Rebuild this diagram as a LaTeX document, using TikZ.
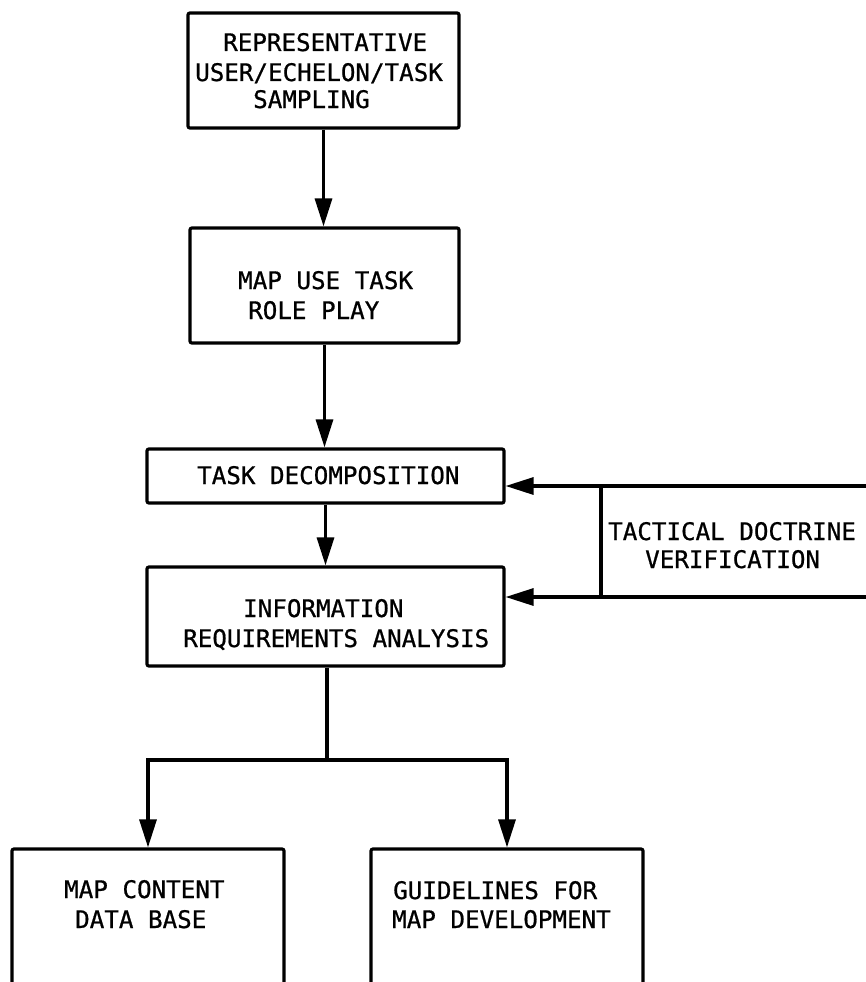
\documentclass[tikz,border=0pt]{standalone}
\usepackage{fontspec}
\newfontfamily\tw[UprightFeatures={FakeBold=0.8}]{DejaVu Sans Mono}
\usetikzlibrary{arrows.meta}
\tikzset{
  box/.style={draw, line width=3.2pt, rounded corners=2pt, inner sep=0pt},
  lbl/.style={anchor=base west, inner sep=0pt, font=\tw\fontsize{24.2}{29}\selectfont},
  conn/.style={line width=3.2pt},
  arr/.style={conn, -{Triangle[length=28pt,width=17pt]}},
}
\begin{document}
\begin{tikzpicture}[x=1pt,y=-1pt]
\useasboundingbox (0,0) rectangle (866,982);
% boxes
\node[box, minimum width=271pt, minimum height=115pt] (b1) at (323.5,70.5) {};
\node[box, minimum width=269pt, minimum height=115pt] (b2) at (324.5,285.5) {};
\node[box, minimum width=357pt, minimum height=54pt] (b3) at (325.5,476) {};
\node[box, minimum width=357pt, minimum height=99pt] (b4) at (325.5,616.5) {};
\node[box, minimum width=272pt, minimum height=160pt] (b5) at (148,929) {};
\node[box, minimum width=272pt, minimum height=160pt] (b6) at (507,929) {};
% texts
\node[lbl] (t1a) at (223,51) {REPRESENTATIVE};
\node[lbl] (t1b) at (195,81) {USER/ECHELON/TASK};
\node[lbl] (t1c) at (253,108) {SAMPLING};
\node[lbl] (t2a) at (238,289) {MAP USE TASK};
\node[lbl] (t2b) at (248,319) {ROLE PLAY};
\node[lbl] (t3) at (197,484) {TASK DECOMPOSITION};
\node[lbl] (t4a) at (243,617) {INFORMATION};
\node[lbl] (t4b) at (183,647) {REQUIREMENTS ANALYSIS};
\node[lbl] (td1) at (608,540) {TACTICAL DOCTRINE};
\node[lbl] (td2) at (645,568) {VERIFICATION};
\node[lbl] (t5a) at (64,898) {MAP CONTENT};
\node[lbl] (t5b) at (75,928) {DATA BASE};
\node[lbl] (t6a) at (393,899) {GUIDELINES FOR};
\node[lbl] (t6b) at (392,928) {MAP DEVELOPMENT};
% tactical doctrine frame
\coordinate (tdtop) at (870,486);
\coordinate (tdbot) at (870,597);
\coordinate (tdl1) at (601,486);
\coordinate (tdl2) at (601,597);
\draw[conn] (tdl1) -- (tdl2);
\draw[arr] (tdtop) -- (tdtop -| b3.east);
\draw[arr] (tdbot) -- (tdbot -| b4.east);
% main flow
\draw[arr] (b1.south) -- (b1.south |- b2.north);
\draw[arr] (b2.south) -- (b2.south |- b3.north);
\draw[arr] (b3.south) -- (b3.south |- b4.north);
\coordinate (sp) at (327,760);
\draw[conn] (b4.south -| sp) -- (sp);
\draw[arr] (sp) -| (b5.north);
\draw[arr] (sp) -| (b6.north);
\end{tikzpicture}
\end{document}
